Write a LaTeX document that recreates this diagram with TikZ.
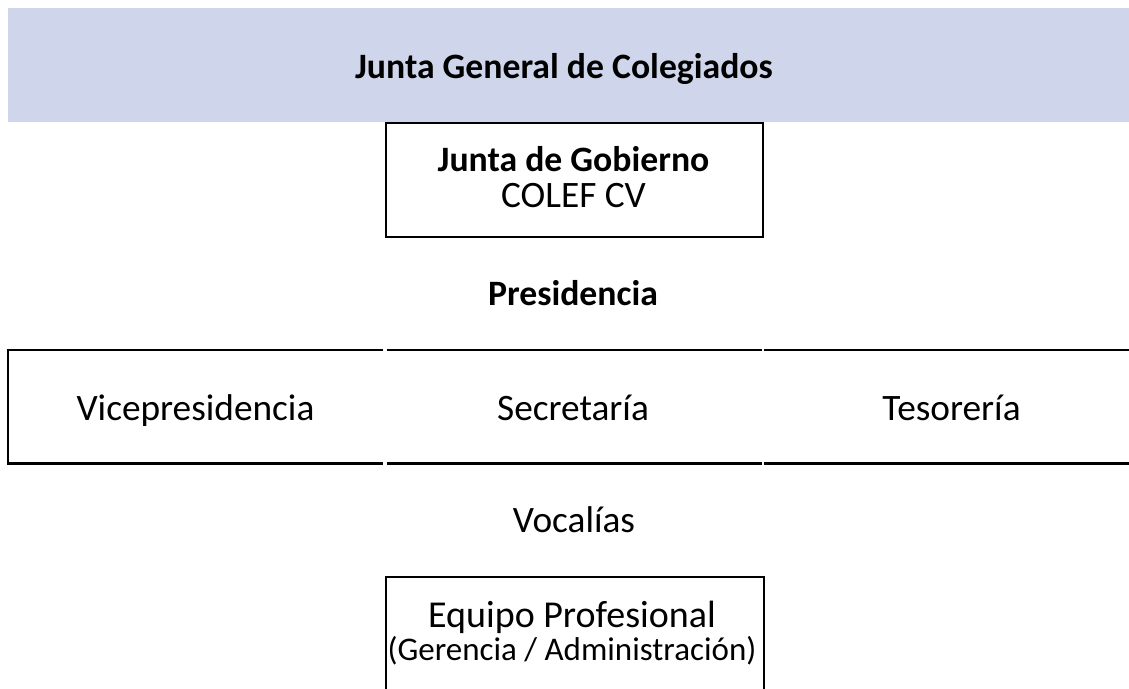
\documentclass[tikz,border=0pt]{standalone}
\usepackage{fontspec}
\setmainfont{Carlito}
\definecolor{bandblue}{RGB}{207,213,234}
\tikzset{
  rule/.style={line width=2.2pt},
  box/.style={draw, rule, inner sep=0pt, anchor=north west},
  cell/.style={minimum width=375pt, minimum height=113pt, inner sep=0pt, anchor=north west},
  label/.style={font=\fontsize{37.3}{37}\selectfont, anchor=base, inner sep=0pt},
  boldlabel/.style={label, font=\fontsize{35.7}{36}\selectfont\bfseries},
  sublabel/.style={font=\fontsize{33}{33}\selectfont, anchor=base, inner sep=0pt}
}
\begin{document}
\begin{tikzpicture}[x=1pt,y=-1pt]
\useasboundingbox (0,0) rectangle (1129,688);
\clip (0,0) rectangle (1129,688);

% top band
\node[fill=bandblue, minimum width=1130pt, minimum height=114pt, inner sep=0pt, anchor=north west] (general) at (8,8) {};
\node[boldlabel] (generaltxt) at (564,78) {Junta General de Colegiados};

% governing board
\node[box, minimum width=377pt, minimum height=114pt] (gobierno) at (385,122) {};
\node[boldlabel] (gobiernotxt) at (573.5,171) {Junta de Gobierno};
\node[label] (colef) at (573.5,207) {COLEF CV};

\node[boldlabel] (presidencia) at (573,305) {Presidencia};

% row of offices
\node[cell] (vice) at (8,350) {};
\node[cell] (secre) at (387,350) {};
\node[cell, minimum width=380pt] (teso) at (764,350) {};
\draw[rule] (vice.north east) -- (vice.north west) -- (vice.south west) -- (vice.south east);
\draw[rule] (secre.north west) -- (secre.north east);
\draw[rule] (secre.south west) -- (secre.south east);
\draw[rule] (teso.north west) -- (teso.north east);
\draw[rule] (teso.south west) -- (teso.south east);
\node[label] (vicetxt) at (195.5,420) {Vicepresidencia};
\node[label] (secretxt) at (573,420) {Secretaría};
\node[label] (tesotxt) at (951.5,420) {Tesorería};

\node[label] (vocalias) at (574,532) {Vocalías};

% staff
\node[box, minimum width=378pt, minimum height=150pt] (equipo) at (385,576) {};
\node[label, font=\fontsize{38}{38}\selectfont] (equipotxt) at (572,627) {Equipo Profesional};
\node[sublabel] (gerencia) at (572,660) {(Gerencia / Administración)};
\end{tikzpicture}
\end{document}
